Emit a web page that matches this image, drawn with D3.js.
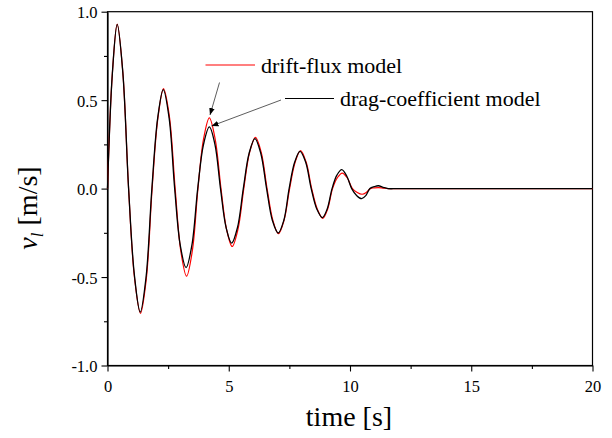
<!DOCTYPE html>
<html>
<head>
<meta charset="utf-8">
<script src="https://cdn.jsdelivr.net/npm/d3@7"></script>
<style>
  body { margin: 0; background: #fff; }
  svg text { font-family: "Liberation Serif", "Times New Roman", serif !important; fill: #000; }
</style>
</head>
<body>
<svg id="chart" width="612" height="438"></svg>
<script>
// time [s] and liquid velocity [m/s]
const timeDrag = [0, 0.2, 0.4, 0.63, 0.87, 1.11, 1.35, 1.59, 1.83, 2.07, 2.3, 2.54, 2.77, 3.0, 3.24, 3.48, 3.72,
  3.96, 4.2, 4.43, 4.66, 4.89, 5.12, 5.36, 5.6, 5.84, 6.08, 6.32, 6.56, 6.8, 7.04, 7.27, 7.49, 7.72, 7.94,
  8.17, 8.4, 8.63, 8.86, 9.06, 9.26, 9.46, 9.66, 9.87, 10.07, 10.28, 10.48, 10.65, 10.82, 11.0, 11.17, 11.37, 11.57, 12, 20];
const velDrag = [0, 0.65, 0.928, 0.66, 0, -0.49, -0.698, -0.5, 0, 0.40, 0.56, 0.40, 0, -0.32, -0.447, -0.32, 0,
  0.25, 0.349, 0.25, 0, -0.22, -0.308, -0.22, 0, 0.20, 0.283, 0.20, 0, -0.18, -0.251, -0.18, 0, 0.15, 0.21,
  0.15, 0, -0.115, -0.164, -0.115, 0, 0.076, 0.107, 0.07, 0, -0.04, -0.057, -0.04, 0, 0.011, 0.016, 0.007, 0, 0, 0];

const timeDrift = [0, 0.2, 0.4, 0.63, 0.87, 1.11, 1.36, 1.6, 1.84, 2.08, 2.31, 2.55, 2.79, 3.02, 3.26, 3.5, 3.73,
  3.96, 4.2, 4.44, 4.68, 4.91, 5.14, 5.38, 5.62, 5.86, 6.1, 6.34, 6.58, 6.82, 7.05, 7.28, 7.51, 7.74, 7.96,
  8.19, 8.42, 8.65, 8.88, 9.08, 9.28, 9.48, 9.68, 9.89, 10.1, 10.3, 10.5, 10.67, 10.84, 11.0, 11.17, 11.37, 11.57, 12, 20];
const velDrift = [0, 0.65, 0.93, 0.66, 0, -0.50, -0.705, -0.51, 0, 0.40, 0.565, 0.41, 0, -0.35, -0.495, -0.35, 0,
  0.28, 0.40, 0.28, 0, -0.23, -0.327, -0.23, 0, 0.205, 0.29, 0.205, 0, -0.18, -0.255, -0.18, 0, 0.15, 0.215,
  0.15, 0, -0.115, -0.168, -0.115, 0, 0.062, 0.088, 0.06, 0, -0.022, -0.032, -0.022, 0, 0.004, 0.006, 0.003, 0, 0, 0];

const xTicks = [0, 5, 10, 15, 20];
const xMinor = [2.5, 7.5, 12.5, 17.5];
const yTicks = [-1.0, -0.5, 0.0, 0.5, 1.0];
const yMinor = [-0.75, -0.25, 0.25, 0.75];

const svg = d3.select("#chart");
const plotL = 107.5, plotR = 592.5, plotT = 11.7, plotB = 365.5;

const x = d3.scaleLinear().domain([0, 20]).range([plotL, plotR]);
const y = d3.scaleLinear().domain([-1, 1]).range([plotB, plotT]);

// plot frame
svg.append("rect")
  .attr("x", plotL).attr("y", plotT)
  .attr("width", plotR - plotL).attr("height", plotB - plotT)
  .attr("fill", "none").attr("stroke", "#000").attr("stroke-width", 1.2);

// axes (hyphen instead of unicode minus, like the original)
const fmtY = d => d3.format(".1f")(d).replace("\u2212", "-");

const xAxis = svg.append("g")
  .attr("transform", `translate(0,${plotB})`)
  .call(d3.axisBottom(x).tickValues(xTicks).tickSize(6).tickSizeOuter(0).tickFormat(d3.format("d")));
svg.append("g")
  .attr("transform", `translate(0,${plotB})`)
  .call(d3.axisBottom(x).tickValues(xMinor).tickSize(3.5).tickSizeOuter(0).tickFormat(""))
  .call(g => g.select(".domain").remove());

const yAxis = svg.append("g")
  .attr("transform", `translate(${plotL},0)`)
  .call(d3.axisLeft(y).tickValues(yTicks).tickSize(6).tickSizeOuter(0).tickFormat(fmtY));
svg.append("g")
  .attr("transform", `translate(${plotL},0)`)
  .call(d3.axisLeft(y).tickValues(yMinor).tickSize(3.5).tickSizeOuter(0).tickFormat(""))
  .call(g => g.select(".domain").remove());

svg.selectAll("g").attr("font-family", null);
svg.selectAll(".tick line").attr("stroke", "#000").attr("stroke-width", 1.1);
svg.selectAll(".domain").attr("stroke", "#000").attr("stroke-width", 1.2);
svg.selectAll(".tick text").attr("font-size", 16.5);
xAxis.selectAll(".tick text").attr("dy", "1.05em");
yAxis.selectAll(".tick text").attr("x", -10).attr("dy", "0.36em");

// curves
const line = d3.line()
  .x(d => x(d[0]))
  .y(d => y(d[1]))
  .curve(d3.curveCatmullRom.alpha(0.5));

svg.append("path")
  .datum(d3.zip(timeDrift, velDrift))
  .attr("fill", "none")
  .attr("stroke", "#ff0000")
  .attr("stroke-width", 1.2)
  .attr("d", line);

svg.append("path")
  .datum(d3.zip(timeDrag, velDrag))
  .attr("fill", "none")
  .attr("stroke", "#000")
  .attr("stroke-width", 1.3)
  .attr("d", line);

// legend
svg.append("line").attr("x1", 205.5).attr("x2", 255).attr("y1", 65).attr("y2", 65)
  .attr("stroke", "#ff0000").attr("stroke-width", 1.2);
svg.append("text").attr("x", 261).attr("y", 73).attr("font-size", 22).text("drift-flux model");

svg.append("line").attr("x1", 285).attr("x2", 334).attr("y1", 98.5).attr("y2", 98.5)
  .attr("stroke", "#000").attr("stroke-width", 1.2);
svg.append("text").attr("x", 340).attr("y", 105.5).attr("font-size", 22).text("drag-coefficient model");

// arrows
const defs = svg.append("defs");
defs.append("marker")
  .attr("id", "arr")
  .attr("viewBox", "0 0 10 10")
  .attr("refX", 10).attr("refY", 5)
  .attr("markerWidth", 7).attr("markerHeight", 7)
  .attr("markerUnits", "userSpaceOnUse")
  .attr("orient", "auto")
  .append("path").attr("d", "M0,1 L10,5 L0,9 z").attr("fill", "#000");

svg.append("line").attr("x1", 219.5).attr("y1", 82.5).attr("x2", 210).attr("y2", 115)
  .attr("stroke", "#333").attr("stroke-width", 0.8).attr("marker-end", "url(#arr)");
svg.append("line").attr("x1", 281).attr("y1", 100).attr("x2", 211.5).attr("y2", 126)
  .attr("stroke", "#333").attr("stroke-width", 0.8).attr("marker-end", "url(#arr)");

// axis titles
svg.append("text")
  .attr("x", 349).attr("y", 426)
  .attr("text-anchor", "middle")
  .attr("font-size", 28)
  .text("time [s]");

const yt = svg.append("text")
  .attr("transform", "translate(37,208) rotate(-90)")
  .attr("text-anchor", "middle")
  .attr("font-size", 28);
yt.append("tspan").attr("font-style", "italic").text("v");
yt.append("tspan").attr("font-style", "italic").attr("font-size", 17).attr("dy", 6).text("l");
yt.append("tspan").attr("dy", -6).text(" [m/s]");
</script>
</body>
</html>
